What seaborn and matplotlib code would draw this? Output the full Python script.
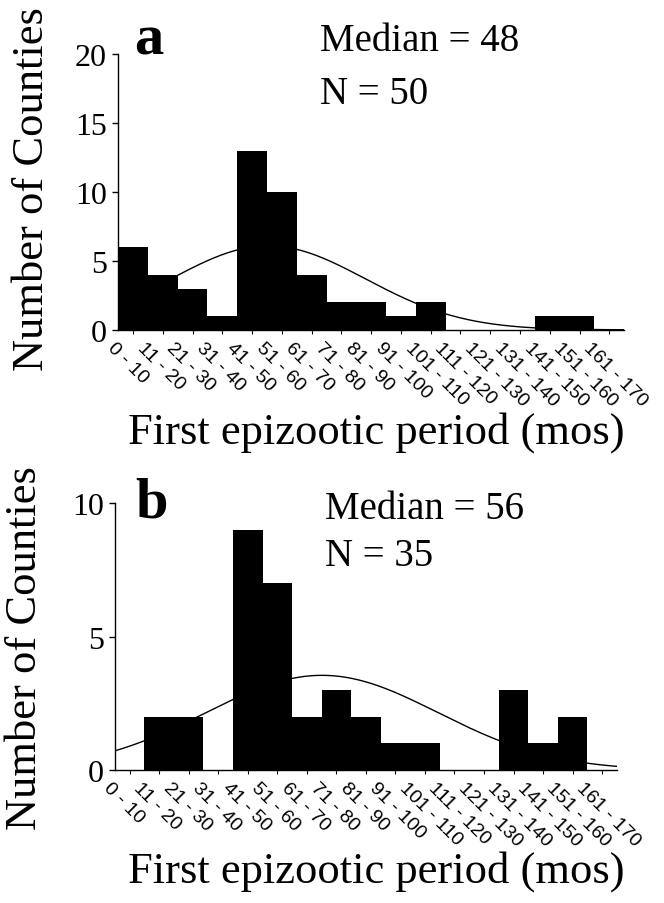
import numpy as np
import pandas as pd
import matplotlib
matplotlib.use('Agg')
import matplotlib.pyplot as plt
import matplotlib.transforms as mtransforms
import seaborn as sns

# bins of the first epizootic period (months)
bin_labels = ["0 - 10", "11 - 20", "21 - 30", "31 - 40", "41 - 50", "51 - 60",
              "61 - 70", "71 - 80", "81 - 90", "91 - 100", "101 - 110", "111 - 120",
              "121 - 130", "131 - 140", "141 - 150", "151 - 160", "161 - 170"]
bin_mids = [5, 15, 25, 35, 45, 55, 65, 75, 85, 95, 105, 115, 125, 135, 145, 155, 165]

counts_a = [6, 4, 3, 1, 13, 10, 4, 2, 2, 1, 2, 0, 0, 0, 1, 1, 0]
counts_b = [0, 2, 2, 0, 9, 7, 2, 3, 2, 1, 1, 0, 0, 3, 1, 2, 0]

panel_letters = ["a", "b"]
median_texts = ["Median = 48", "Median = 56"]
n_texts = ["N = 50", "N = 35"]
y_max = [20, 10]
y_ticks = [[0, 5, 10, 15, 20], [0, 5, 10]]

sns.set_style("ticks")
plt.rcParams['font.family'] = ['Liberation Serif', 'DejaVu Serif']
plt.rcParams['text.color'] = 'black'
plt.rcParams['axes.labelcolor'] = 'black'
plt.rcParams['xtick.color'] = 'black'
plt.rcParams['ytick.color'] = 'black'

fig = plt.figure(figsize=(6.64, 9.04), dpi=100)

axes_rects = [[0.178, 0.634, 0.762, 0.305], [0.173, 0.147, 0.756, 0.295]]
ylabel_pos = [(-0.17, 0.515), (-0.18, 0.46)]
xlabel_pos = [(0.51, -0.37), (0.52, -0.375)]
letter_pos = [(0.224, 0.955), (0.228, 0.443)]
median_pos = [(0.482, 0.954), (0.489, 0.436)]
n_pos = [(0.482, 0.896), (0.489, 0.384)]

for k, counts in enumerate([counts_a, counts_b]):
    ax = fig.add_axes(axes_rects[k])
    df = pd.DataFrame({"bin": bin_labels, "count": counts})

    # fitted normal curve (from the binned data), scaled to counts per 10-month bin
    mids = np.array(bin_mids, dtype=float)
    c = np.array(counts, dtype=float)
    n = c.sum()
    mu = (c * mids).sum() / n
    sd = np.sqrt((c * (mids - mu) ** 2).sum() / (n - 1))
    xs = np.linspace(0, 170, 400)
    ys = n * 10 / (sd * np.sqrt(2 * np.pi)) * np.exp(-(xs - mu) ** 2 / (2 * sd ** 2))
    ax.plot(xs / 10 - 0.5, ys, color="black", lw=1.0, zorder=1)

    sns.barplot(data=df, x="bin", y="count", color="black", saturation=1,
                width=1.0, edgecolor="black", linewidth=0, ax=ax, zorder=2)

    ax.set_xlim(-0.5, 16.5)
    ax.set_ylim(0, y_max[k])
    ax.set_yticks(y_ticks[k])
    ax.set_yticklabels([str(t) for t in y_ticks[k]], fontsize=23)
    ax.tick_params(axis="y", length=4, width=1, pad=4, direction="out")
    ax.tick_params(axis="x", length=3, width=0.8, pad=2, direction="out")
    ax.set_xticks(range(len(bin_labels)))
    ax.set_xticklabels(bin_labels, rotation=-45, ha="left", va="top",
                       rotation_mode="anchor", fontsize=14,
                       family=["Liberation Sans", "DejaVu Sans"])
    offset = mtransforms.ScaledTranslation(-0.17, -0.02, fig.dpi_scale_trans)
    for lab in ax.get_xticklabels():
        lab.set_transform(lab.get_transform() + offset)

    sns.despine(ax=ax)
    for sp in ["left", "bottom"]:
        ax.spines[sp].set_linewidth(1.0)
        ax.spines[sp].set_color("black")

    ax.set_ylabel("Number of Counties", fontsize=32, va="center")
    ax.yaxis.set_label_coords(*ylabel_pos[k])
    ax.set_xlabel("First epizootic period (mos)", fontsize=32, va="center")
    ax.xaxis.set_label_coords(*xlabel_pos[k])

    fig.text(letter_pos[k][0], letter_pos[k][1], panel_letters[k], fontsize=42,
             fontweight="bold", ha="center", va="center")
    fig.text(median_pos[k][0], median_pos[k][1], median_texts[k], fontsize=28,
             ha="left", va="center")
    fig.text(n_pos[k][0], n_pos[k][1], n_texts[k], fontsize=28,
             ha="left", va="center")

fig.savefig("out.png", dpi=100)
plt.close(fig)
